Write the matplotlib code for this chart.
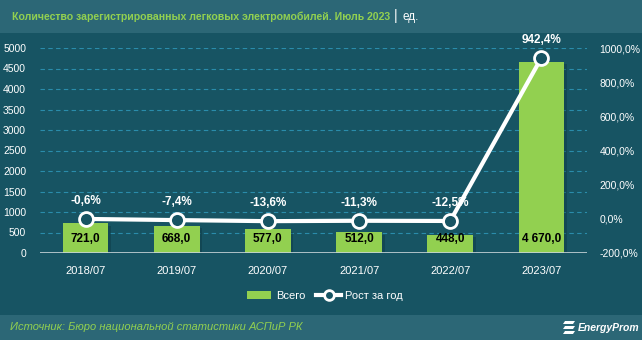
import matplotlib
matplotlib.use("Agg")
import matplotlib.pyplot as plt
import matplotlib.patheffects as pe
from matplotlib.patches import Rectangle, Polygon
from matplotlib.lines import Line2D
import numpy as np

periods = ["2018/07", "2019/07", "2020/07", "2021/07", "2022/07", "2023/07"]
total = [721.0, 668.0, 577.0, 512.0, 448.0, 4670.0]
growth = [-0.6, -7.4, -13.6, -11.3, -12.5, 942.4]

BG = "#175463"
BAND = "#2c6776"
GREEN = "#92d050"
GRID = "#2a8cab"

plt.rcParams["font.family"] = ["Liberation Sans", "DejaVu Sans"]

W, H = 642, 340
fig = plt.figure(figsize=(W / 100, H / 100), dpi=100, facecolor=BG)

# header and footer bands
fig.patches.append(Rectangle((0, 1 - 33 / H), 1, 33 / H, transform=fig.transFigure,
                             facecolor=BAND, edgecolor="none", zorder=0))
fig.patches.append(Rectangle((0, 0), 1, 25 / H, transform=fig.transFigure,
                             facecolor=BAND, edgecolor="none", zorder=0))

title = fig.text(12 / W, 1 - 17 / H, "Количество зарегистрированных легковых электромобилей. Июль 2023",
                 color=GREEN, fontsize=7.6, fontweight="bold", va="center", ha="left")
sep = fig.text(0, 0, "|", color="white", fontsize=10.5, va="center", ha="left")
fig.canvas.draw()
bb = title.get_window_extent()
sep.set_position(((bb.x1 + 4) / W, 1 - 16 / H))
fig.text((bb.x1 + 12) / W, 1 - 17 / H, "ед.", color="white", fontsize=8.5, va="center", ha="left")

fig.text(10 / W, 13 / H, "Источник: Бюро национальной статистики АСПиР РК",
         color=GREEN, fontsize=8, style="italic", va="center", ha="left")
fig.text(578 / W, 12 / H, "EnergyProm", color="white", fontsize=7.5, fontweight="bold",
         style="italic", va="center", ha="left")
# small logo stripes
for i in range(3):
    y0 = 6 + i * 5
    fig.patches.append(Polygon([(563 / W, y0 / H), (573 / W, y0 / H), (575 / W, (y0 + 3) / H),
                                (565 / W, (y0 + 3) / H)], closed=True, transform=fig.transFigure,
                               facecolor="white", edgecolor="none"))

ax = fig.add_axes([40 / W, (H - 253) / H, 547 / W, 205 / H])
ax.set_facecolor(BG)
x = np.arange(len(periods))
bars = ax.bar(x, total, width=0.5, color=GREEN, zorder=2, label="Всего")
for b in bars:
    b.set_path_effects([pe.SimplePatchShadow(offset=(2, -2), shadow_rgbFace="#0b2f38", alpha=0.35),
                        pe.Normal()])
ax.set_ylim(0, 5000)
ax.set_xlim(-0.5, len(periods) - 0.5)
ax.set_yticks(range(0, 5001, 500))
for yv in range(500, 5001, 500):
    ax.axhline(yv, color=GRID, lw=0.8, ls=(0, (4, 3)), zorder=0)
ax.axhline(0, color="#c8d4d8", lw=1.2, zorder=3)
for s in ax.spines.values():
    s.set_visible(False)
ax.tick_params(axis="y", colors="white", labelsize=7.5, length=0, pad=10)
ax.tick_params(axis="x", colors="white", labelsize=8, length=0, pad=9)
ax.set_xticks(x)
ax.set_xticklabels(periods)

for xi, v in zip(x, total):
    ax.annotate(f"{v:,.1f}".replace(",", " ").replace(".", ","), (xi, 0),
                xytext=(0, 10), textcoords="offset points", ha="center", va="center",
                fontsize=8.5, fontweight="bold", color="black", zorder=5)

ax2 = ax.twinx()
ax2.set_ylim(-200, 1000)
ax2.set_yticks(range(-200, 1001, 200))
ax2.set_yticklabels([f"{v},0%" for v in range(-200, 1001, 200)])
for s in ax2.spines.values():
    s.set_visible(False)
ax2.tick_params(axis="y", colors="white", labelsize=7.5, length=0, pad=9)
ax2.plot(x, growth, color="white", lw=3, marker="o", markersize=10,
         markerfacecolor=BG, markeredgecolor="white", markeredgewidth=2, zorder=4,
         label="Рост за год")
for xi, v in zip(x, growth):
    ax2.annotate(f"{v:.1f}%".replace(".", ","), (xi, v), xytext=(0, 13),
                 textcoords="offset points", ha="center", va="center",
                 fontsize=8.5, fontweight="bold", color="white")

handles = [Rectangle((0, 0), 1, 1, facecolor=GREEN),
           Line2D([], [], color="white", lw=3, marker="o", markersize=7,
                  markerfacecolor=BG, markeredgecolor="white", markeredgewidth=2)]
fig.legend(handles, ["Всего", "Рост за год"], loc="center", bbox_to_anchor=(325 / W, 1 - 296 / H),
           ncol=2, frameon=False, fontsize=8, labelcolor="white", handlelength=2.2,
           columnspacing=1.0, handletextpad=0.4)

fig.savefig("out.png", dpi=100, facecolor=BG)
